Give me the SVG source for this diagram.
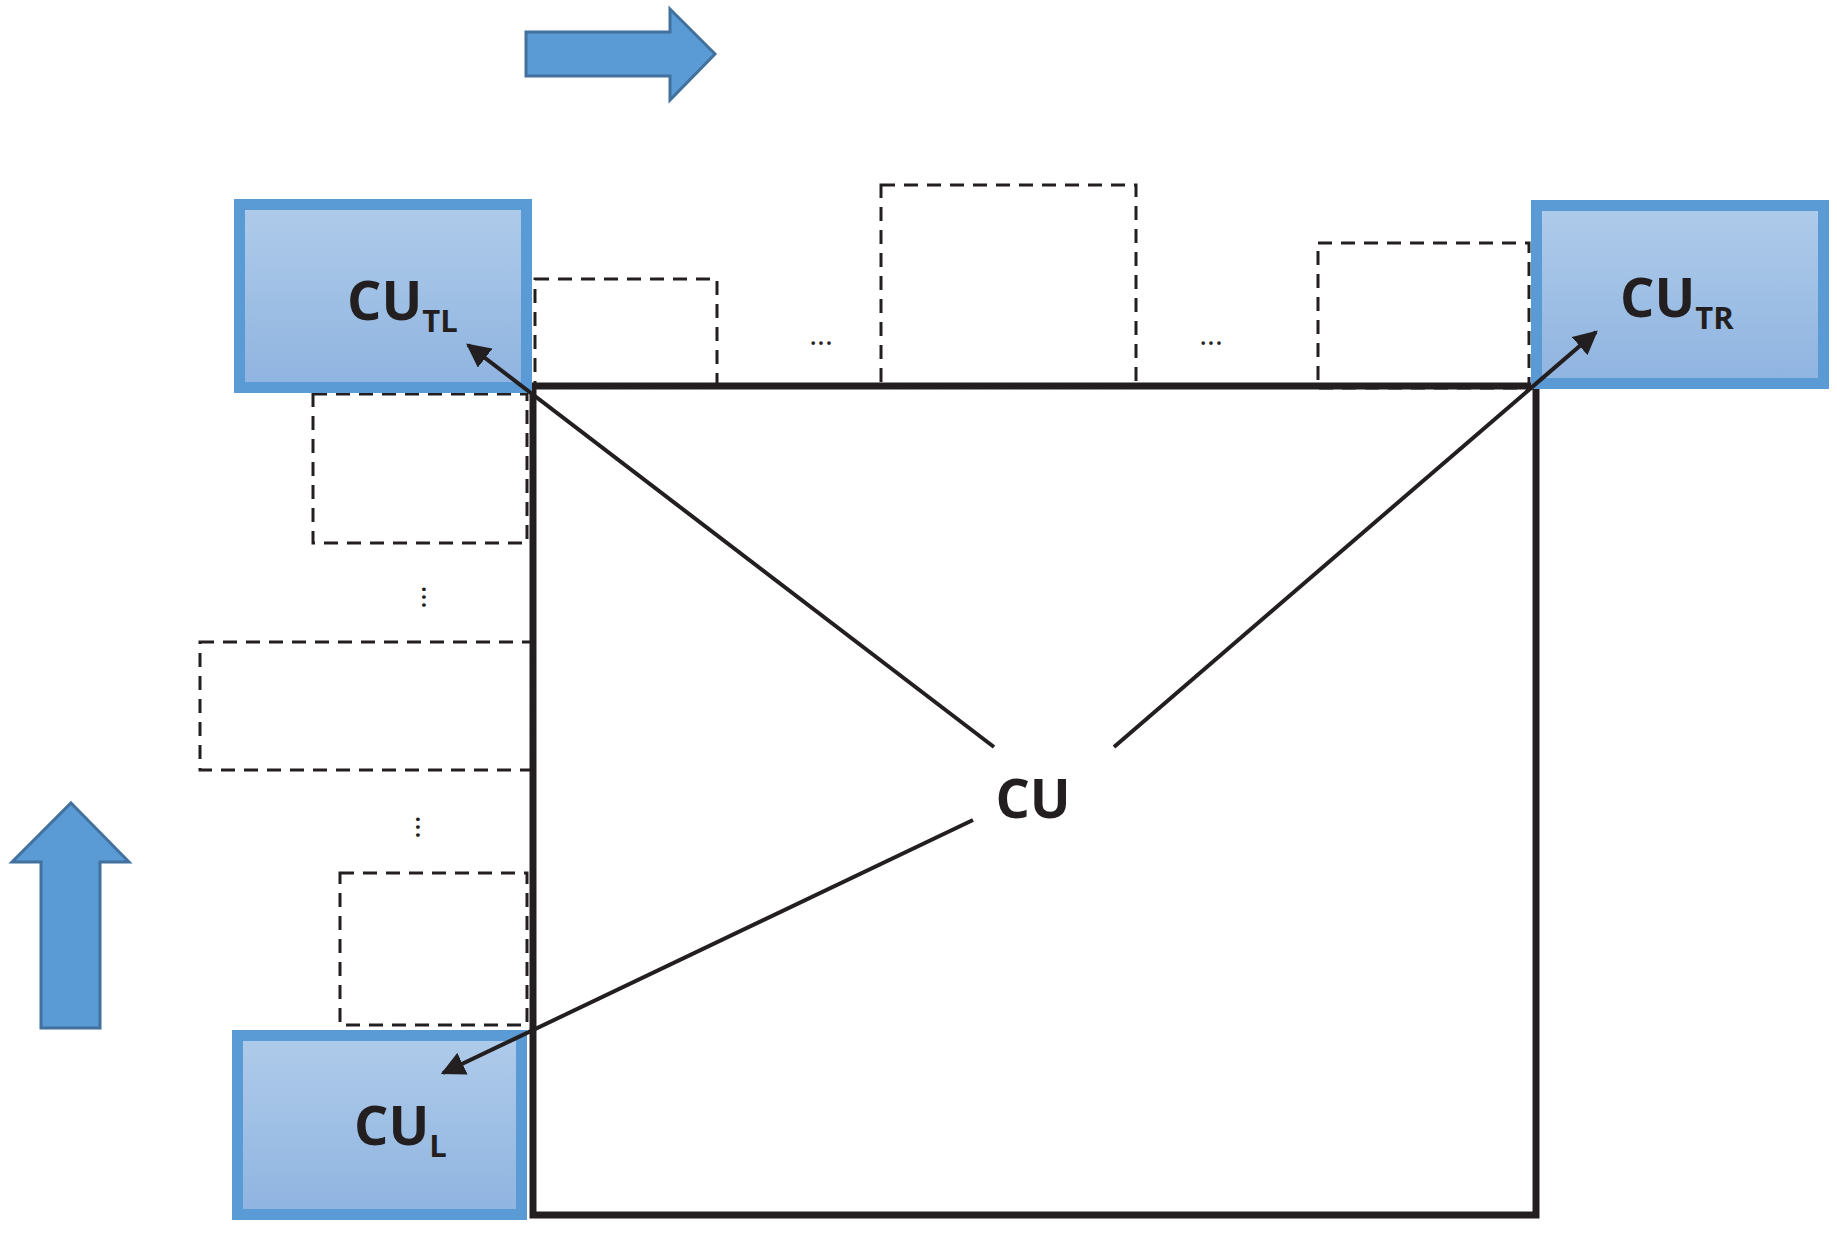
<svg xmlns="http://www.w3.org/2000/svg" width="1837" height="1233" viewBox="0 0 1837 1233">
<style>
.cu{fill:url(#g);stroke:#5b9bd5;stroke-width:11}
.d{fill:none;stroke:#231f20;stroke-width:3;stroke-dasharray:14 9}
.t{font-family:"Open Sans",sans-serif;font-weight:bold;fill:#231f20}
.ar{fill:#5b9bd5;stroke:#41719c;stroke-width:3}
.c{stroke:#231f20;stroke-width:4;fill:none;marker-end:url(#m)}
</style>
<defs>
<linearGradient id="g" x1="0" y1="0" x2="0" y2="1"><stop offset="0" stop-color="#afcbea"/><stop offset="1" stop-color="#8fb4e0"/></linearGradient>
<marker id="m" viewBox="0 0 10 10" refX="9" refY="5" markerWidth="6" markerHeight="6" markerUnits="strokeWidth" orient="auto"><path d="M0,0 L10,5 L0,10 z" fill="#231f20"/></marker>
</defs>
<g id="arrow-right"><path class="ar" d="M526,32 H670 V9 L715,54 L670,100 V76 H526 Z"/></g>
<g id="arrow-up"><path class="ar" d="M71,803 L129,862 H100 V1028 H41 V862 H12 Z"/></g>
<g id="main"><rect x="533" y="386" width="1003" height="829" fill="none" stroke="#231f20" stroke-width="7"/></g>
<g id="dashed">
<rect class="d" x="535" y="279" width="182" height="106"/>
<rect class="d" x="881" y="185" width="255" height="200"/>
<rect class="d" x="1318" y="243" width="211" height="145"/>
<rect class="d" x="313" y="394" width="214" height="149"/>
<rect class="d" x="200" y="642" width="333" height="128"/>
<rect class="d" x="340" y="873" width="187" height="152"/>
</g>
<g id="dots" class="t" style="font-weight:normal">
<text x="821" y="345" font-size="30" text-anchor="middle">...</text>
<text x="1211" y="345" font-size="30" text-anchor="middle">...</text>
<text x="435" y="610" font-size="30" text-anchor="middle" transform="rotate(90 435 597)">...</text>
<text x="429" y="840" font-size="30" text-anchor="middle" transform="rotate(90 429 827)">...</text>
</g>
<g id="cu-tl"><rect class="cu" x="239.5" y="204.5" width="287" height="183"/><text class="t" x="347" y="320" font-size="54">CU<tspan font-size="31" dy="12">TL</tspan></text></g>
<g id="cu-tr"><rect class="cu" x="1536.5" y="205.5" width="287" height="178"/><text class="t" x="1620" y="317" font-size="54">CU<tspan font-size="31" dy="12">TR</tspan></text></g>
<g id="cu-l"><rect class="cu" x="237.5" y="1035.5" width="284" height="179"/><text class="t" x="354" y="1145" font-size="54">CU<tspan font-size="31" dy="12">L</tspan></text></g>
<g id="cu"><text class="t" x="1033" y="818" font-size="54" text-anchor="middle">CU</text></g>
<g id="connectors">
<line class="c" x1="994" y1="747" x2="468" y2="345"/>
<line class="c" x1="1114" y1="747" x2="1596" y2="332"/>
<line class="c" x1="973" y1="820" x2="443" y2="1073"/>
</g>
</svg>
